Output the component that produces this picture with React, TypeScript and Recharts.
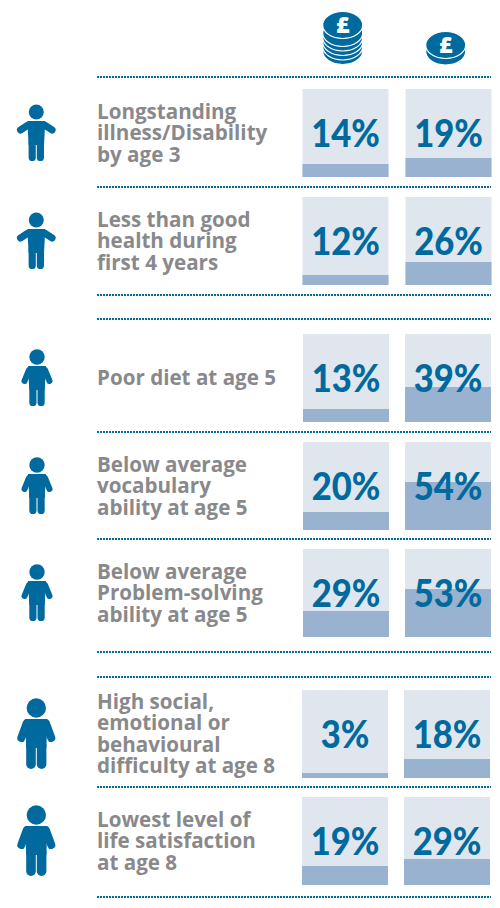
import { BarChart, Bar, XAxis, YAxis, LabelList } from "recharts";

const FONT = "'Open Sans', sans-serif";
const BLUE = "#006a9f";
const GREY = "#89898c";

// one entry per row
const rowLabels = [
  ["Longstanding", "illness/Disability", "by age 3"],
  ["Less than good", "health during", "first 4 years"],
  ["Poor diet at age 5"],
  ["Below average", "vocabulary", "ability at age 5"],
  ["Below average", "Problem-solving", "ability at age 5"],
  ["High social,", "emotional or", "behavioural", "difficulty at age 8"],
  ["Lowest level of", "life satisfaction", "at age 8"],
];
// printed percentages
const richValues = [14, 12, 13, 20, 29, 3, 19];
const poorValues = [19, 26, 39, 54, 53, 18, 29];
// fill levels as drawn (they don't follow the printed number exactly)
const richLevel = [14.8, 11.4, 14.8, 20.5, 29.5, 5.7, 21.6];
const poorLevel = [21.6, 26.1, 39.8, 54.5, 54.5, 21.6, 29.5];
const incomeGroups = ["high", "low"];

const ROW_TOPS = [89, 197, 334, 442, 549, 690, 797];
const ROW_H = 88;
const RULES = [77, 187, 295, 319, 432, 539, 652, 677, 787, 897];
const CELL_X = [302, 302, 303, 303, 303, 302, 302];
const CELL_STEP = [103, 103, 102, 102, 102, 102, 102];

const PERSON_KIND = [0, 0, 1, 1, 1, 2, 2];
const PERSON_SHAPES = [
  { cx: 36.3, head: 23, r: 7.5, sh: 32, torso: 9, armDx: 9, armY: 36.5, handX: 15.8, handY: 41, crotch: 53, foot: 72, leg: 4.1, limb: 7 },
  { cx: 37, head: 23, r: 7.7, sh: 32, torso: 9, armDx: 8, armY: 36, handX: 12.5, handY: 47, crotch: 53, foot: 72, leg: 4.1, limb: 6 },
  { cx: 36.3, head: 18, r: 9.7, sh: 29, torso: 11, armDx: 9.5, armY: 33, handX: 15, handY: 48, crotch: 55, foot: 79, leg: 5.3, limb: 8 },
];

function Person({ top, kind }: { top: number; kind: number }) {
  const s = PERSON_SHAPES[kind];
  const y = (v: number) => top + v;
  const outer = s.leg + s.leg - 0.5;
  return (
    <g fill={BLUE} stroke="none">
      <circle cx={s.cx} cy={y(s.head)} r={s.r} />
      <path
        d={`M${s.cx - s.torso} ${y(s.sh)} H${s.cx + s.torso} L${s.cx + outer} ${y(s.crotch + 3)} H${s.cx - outer} Z`}
      />
      {[-1, 1].map((d) => (
        <g key={d} stroke={BLUE} strokeLinecap="round" fill="none">
          <line
            x1={s.cx + d * s.armDx}
            y1={y(s.armY)}
            x2={s.cx + d * s.handX}
            y2={y(s.handY)}
            strokeWidth={s.limb}
          />
          <line
            x1={s.cx + d * s.leg}
            y1={y(s.crotch)}
            x2={s.cx + d * s.leg}
            y2={y(s.foot - (s.leg - 0.5))}
            strokeWidth={2 * s.leg - 1}
          />
        </g>
      ))}
    </g>
  );
}

function Coins({ cx, layers }: { cx: number; layers: number[] }) {
  return (
    <g>
      {layers.map((cy, i) => (
        <ellipse key={i} cx={cx} cy={cy} rx={20} ry={13.5} fill={BLUE} stroke="#fff" strokeWidth={1.2} />
      ))}
      <text
        x={cx}
        y={layers[layers.length - 1] + 8}
        textAnchor="middle"
        fontFamily={FONT}
        fontWeight={800}
        fontSize={23}
        fill="#fff"
      >
        £
      </text>
    </g>
  );
}

function PctLabel(props: any) {
  const { x, width, value } = props;
  return (
    <text
      transform={`translate(${x + width / 2} ${ROW_H / 2 + 14}) scale(0.91 1)`}
      textAnchor="middle"
      fontFamily="Lato, sans-serif"
      fontWeight={900}
      fontSize={38}
      fill={BLUE}
    >
      {value}%
    </text>
  );
}

function RowChart({ row }: { row: number }) {
  const data = incomeGroups.map((g, i) => ({
    group: g,
    level: i === 0 ? richLevel[row] : poorLevel[row],
    printed: i === 0 ? richValues[row] : poorValues[row],
  }));
  const wide = CELL_STEP[row] === 103;
  const pad = wide ? 0.5 : 0;
  const left = CELL_X[row] - (wide ? 9 : 8);
  return (
    <div style={{ position: "absolute", left, top: ROW_TOPS[row] }}>
      <BarChart
        width={CELL_STEP[row] * 2 + pad * 2}
        height={ROW_H}
        data={data}
        margin={{ top: 0, right: 0, bottom: 0, left: 0 }}
      >
        <XAxis dataKey="group" hide padding={{ left: pad, right: pad }} />
        <YAxis domain={[0, 100]} hide />
        <Bar
          dataKey="level"
          barSize={86}
          fill="#98b2cf"
          background={{ fill: "#e0e6ee" }}
          isAnimationActive={false}
        >
          <LabelList dataKey="printed" content={PctLabel} />
        </Bar>
      </BarChart>
    </div>
  );
}

export default function App() {
  return (
    <div style={{ position: "absolute", left: 0, top: 0, width: 500, height: 908, background: "#fff", overflow: "hidden" }}>
      <svg width={500} height={908} style={{ position: "absolute", left: 0, top: 0 }}>
        <Coins cx={342.7} layers={[51, 46.5, 42, 37.5, 33, 25]} />
        <Coins cx={445.7} layers={[51.5, 45]} />

        {RULES.map((y) => (
          <line key={y} x1={97} x2={491} y1={y} y2={y} stroke={BLUE} strokeWidth={2} strokeDasharray="2 1" />
        ))}

        {ROW_TOPS.map((top, i) => (
          <Person key={i} top={top} kind={PERSON_KIND[i]} />
        ))}

        {rowLabels.map((lines, i) => {
          const mid = ROW_TOPS[i] + ROW_H / 2 + 7;
          return (
            <text key={i} fontFamily={FONT} fontWeight={700} fontSize={20.6} fill={GREY}>
              {lines.map((t, j) => (
                <tspan key={j} x={97} y={mid + (j - (lines.length - 1) / 2) * 21.5}>
                  {t}
                </tspan>
              ))}
            </text>
          );
        })}
      </svg>
      {ROW_TOPS.map((_, i) => (
        <RowChart key={i} row={i} />
      ))}
    </div>
  );
}
